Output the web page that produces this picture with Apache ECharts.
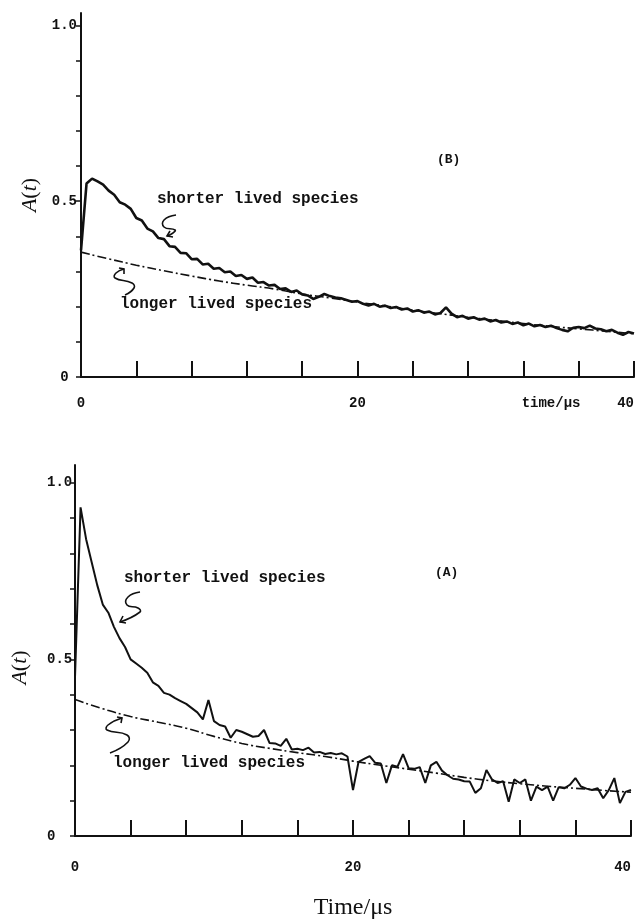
<!DOCTYPE html>
<html>
<head>
<meta charset="utf-8">
<script src="https://cdn.jsdelivr.net/npm/echarts@6/dist/echarts.min.js"></script>
<style>
  html, body { margin: 0; padding: 0; background: #fff; }
  #chart { width: 635px; height: 922px; }
</style>
</head>
<body>
<div id="chart"></div>
<script>
const timeStep = 0.4

// panel (B): absorbance trace, one value per 0.4 µs
const traceB = [
  0.36, 0.55, 0.564, 0.556, 0.547, 0.53, 0.518, 0.497, 0.49, 0.478,
  0.452, 0.445, 0.422, 0.414, 0.395, 0.392, 0.372, 0.37, 0.353, 0.352,
  0.335, 0.336, 0.32, 0.322, 0.308, 0.31, 0.298, 0.3, 0.287, 0.29,
  0.279, 0.283, 0.268, 0.27, 0.26, 0.262, 0.25, 0.252, 0.242, 0.246,
  0.235, 0.232, 0.222, 0.228, 0.236, 0.23, 0.226, 0.224, 0.219, 0.214,
  0.216, 0.208, 0.203, 0.208, 0.2, 0.203, 0.196, 0.199, 0.192, 0.195,
  0.186, 0.19, 0.183, 0.186, 0.178, 0.182, 0.198, 0.18, 0.17, 0.174,
  0.166, 0.17, 0.163, 0.166, 0.158, 0.162, 0.155, 0.158, 0.151, 0.155,
  0.147, 0.152, 0.144, 0.148, 0.142, 0.146, 0.139, 0.134, 0.13, 0.14,
  0.142, 0.139, 0.146, 0.138, 0.136, 0.13, 0.134, 0.126, 0.12, 0.128,
  0.124
]

// panel (A): absorbance trace, one value per 0.4 µs
const traceA = [
  0.45, 0.93, 0.84, 0.775, 0.71, 0.655, 0.632, 0.592, 0.56, 0.535,
  0.5, 0.488, 0.476, 0.462, 0.435, 0.425, 0.405, 0.4, 0.39, 0.382,
  0.374, 0.362, 0.35, 0.33, 0.385, 0.325, 0.314, 0.31, 0.278, 0.3,
  0.295, 0.288, 0.281, 0.283, 0.3, 0.263, 0.262, 0.255, 0.275, 0.245,
  0.247, 0.243, 0.25, 0.236, 0.238, 0.232, 0.235, 0.231, 0.234, 0.225,
  0.13, 0.21, 0.218, 0.226, 0.207, 0.205, 0.15, 0.2, 0.196, 0.232,
  0.192, 0.19, 0.195, 0.15, 0.2, 0.21, 0.185, 0.172, 0.162, 0.16,
  0.155, 0.154, 0.122, 0.135, 0.187, 0.16, 0.15, 0.155, 0.097, 0.16,
  0.15, 0.16, 0.1, 0.14, 0.13, 0.14, 0.1, 0.138, 0.135, 0.145,
  0.164, 0.14, 0.134, 0.13, 0.135, 0.107, 0.13, 0.164, 0.093, 0.125,
  0.13
]

// longer lived component (dash-dot), every 2 µs
const longTimes = [0, 2, 4, 6, 8, 10, 12, 14, 16, 18, 20, 22, 24, 26, 28, 30, 32, 34, 36, 38, 40]
const longB = [0.355, 0.336, 0.318, 0.302, 0.287, 0.273, 0.261, 0.25, 0.236, 0.225, 0.213,
  0.202, 0.19, 0.18, 0.17, 0.161, 0.152, 0.144, 0.137, 0.13, 0.123]
const longA = [0.386, 0.36, 0.338, 0.322, 0.305, 0.282, 0.262, 0.248, 0.236, 0.225, 0.212,
  0.2, 0.189, 0.178, 0.166, 0.156, 0.148, 0.141, 0.135, 0.129, 0.124]

const xTicks = [0, 4, 8, 12, 16, 20, 24, 28, 32, 36, 40]
const yTicks = [0, 0.1, 0.2, 0.3, 0.4, 0.5, 0.6, 0.7, 0.8, 0.9, 1.0]
const yLabels = [0, 0.5, 1.0]
const xLabelsB = [0, 20, 34, 40]
const xLabelsA = [0, 20, 40]

const mono = "'Liberation Mono', 'DejaVu Sans Mono', monospace"
const serif = "'Liberation Serif', 'DejaVu Serif', serif"
const ink = '#111'

function pairs(values) {
  return values.map((v, i) => [+(i * timeStep).toFixed(1), v])
}

function xAxisFor(grid, labels, nameTxt, labelMargin) {
  return {
    gridIndex: grid,
    type: 'value',
    min: 0,
    max: 40,
    interval: 4,
    name: nameTxt,
    nameLocation: 'middle',
    nameGap: 60,
    nameTextStyle: { fontFamily: serif, fontSize: 24, color: ink },
    axisLine: { lineStyle: { color: ink, width: 2 } },
    axisTick: { inside: true, length: 16, customValues: xTicks, lineStyle: { color: ink, width: 2 } },
    axisLabel: {
      customValues: labels,
      margin: labelMargin,
      alignMaxLabel: 'right',
      fontFamily: mono,
      fontWeight: 'bold',
      fontSize: 14,
      color: ink,
      formatter: v => (v === 34 ? 'time/\u03bcs' : String(v))
    },
    splitLine: { show: false }
  }
}

function yAxisFor(grid, top, nameGap, namePad, labelOpts) {
  return {
    gridIndex: grid,
    type: 'value',
    min: 0,
    max: top,
    name: '{i|A}{n|(}{i|t}{n|)}',
    nameLocation: 'middle',
    nameGap: nameGap,
    nameTextStyle: {
      padding: namePad,
      rich: {
        i: { fontFamily: serif, fontStyle: 'italic', fontSize: 22, color: ink },
        n: { fontFamily: serif, fontSize: 22, color: ink }
      }
    },
    axisLine: { lineStyle: { color: ink, width: 2 } },
    axisTick: { length: 5, customValues: yTicks, lineStyle: { color: ink, width: 1.5 } },
    axisLabel: Object.assign({
      customValues: yLabels,
      fontFamily: mono,
      fontWeight: 'bold',
      fontSize: 14,
      color: ink,
      showMaxLabel: true
    }, labelOpts),
    splitLine: { show: false }
  }
}

function traceSeries(idx, values, width) {
  return {
    type: 'line',
    xAxisIndex: idx,
    yAxisIndex: idx,
    data: pairs(values),
    showSymbol: false,
    lineStyle: { color: ink, width: width },
    z: 3
  }
}

function longSeries(idx, values) {
  return {
    type: 'line',
    xAxisIndex: idx,
    yAxisIndex: idx,
    data: longTimes.map((t, i) => [t, values[i]]),
    showSymbol: false,
    smooth: true,
    lineStyle: { color: ink, width: 1.6, type: [9, 3, 2, 3] },
    z: 2
  }
}

function label(txt, x, y, size) {
  return {
    type: 'text',
    left: x,
    top: y,
    style: { text: txt, font: 'bold ' + size + 'px ' + mono, fill: ink }
  }
}

function squiggle(points) {
  return { type: 'polyline', shape: { points: points, smooth: 0.5 }, style: { stroke: ink, lineWidth: 1.6, fill: null } }
}

function arrowHead(points) {
  return { type: 'polyline', shape: { points: points }, style: { stroke: ink, lineWidth: 1.6, fill: null } }
}

const chart = echarts.init(document.getElementById('chart'), null, { renderer: 'canvas' })

chart.setOption({
  backgroundColor: '#fff',
  animation: false,
  grid: [
    { left: 81, top: 13, width: 553, height: 364, outerBoundsMode: 'none' },
    { left: 75, top: 465, width: 556, height: 371, outerBoundsMode: 'none' }
  ],
  xAxis: [
    xAxisFor(0, xLabelsB, '', 19),
    xAxisFor(1, xLabelsA, 'Time/\u03bcs', 24)
  ],
  yAxis: [
    yAxisFor(0, 1.035, 40, [0, 0, 0, 0], { margin: 4, formatter: v => (v === 0 ? '0 ' : v.toFixed(1)) }),
    yAxisFor(1, 1.05, 44, [0, 34, 0, 0], { margin: 28, align: 'left', formatter: v => (v === 0 ? '0' : v.toFixed(1)) })
  ],
  series: [
    traceSeries(0, traceB, 2.6),
    longSeries(0, longB),
    traceSeries(1, traceA, 2),
    longSeries(1, longA)
  ],
  graphic: [
    label('(B)', 437, 153, 13),
    label('shorter lived species', 157, 191, 16),
    label('longer lived species', 120, 296, 16),
    squiggle([[176, 215], [164, 220], [164, 227], [175, 230], [173, 233], [167, 236]]),
    arrowHead([[170, 231], [167, 236], [173, 237]]),
    squiggle([[124, 269], [116, 273], [115, 278], [132, 283], [134, 288], [125, 295]]),
    arrowHead([[119, 268], [124, 269], [124, 274]]),

    label('(A)', 435, 566, 13),
    label('shorter lived species', 124, 570, 16),
    label('longer lived species', 113, 755, 16),
    squiggle([[140, 592], [128, 597], [127, 605], [138, 608], [140, 612], [120, 622]]),
    arrowHead([[123, 616], [120, 622], [126, 623]]),
    squiggle([[122, 718], [108, 725], [107, 730], [127, 735], [128, 742], [110, 753]]),
    arrowHead([[117, 717], [122, 718], [121, 723]])
  ]
})
</script>
</body>
</html>
